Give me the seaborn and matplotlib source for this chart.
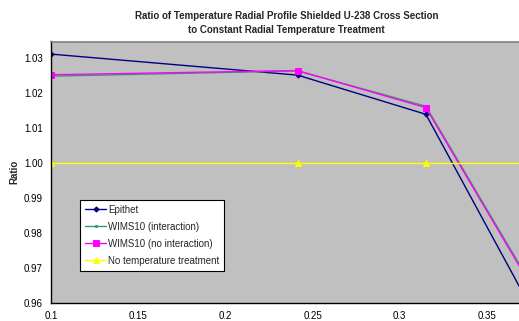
import matplotlib
matplotlib.use("Agg")
import matplotlib.pyplot as plt
import seaborn as sns
import pandas as pd

radius = [0.1, 0.2414, 0.315, 0.4096]
epithet = [1.0311, 1.0251, 1.0139, 0.9271]
wims_inter = [1.0248, 1.0263, 1.0162, 0.9365]
wims_nointer = [1.0252, 1.0264, 1.0158, 0.9359]
no_temp = [1.0, 1.0, 1.0, 1.0]

series = {
    "Epithet": epithet,
    "WIMS10 (interaction)": wims_inter,
    "WIMS10 (no interaction)": wims_nointer,
    "No temperature treatment": no_temp,
}
styles = {
    "Epithet": dict(color="#000080", marker="D", markersize=2.6),
    "WIMS10 (interaction)": dict(color="#339966", marker="o", markersize=1.5),
    "WIMS10 (no interaction)": dict(color="#FF00FF", marker="s", markersize=4.5),
    "No temperature treatment": dict(color="#FFFF00", marker="^", markersize=4),
}

sns.set_style("white")
plt.rcParams["font.family"] = ["Liberation Sans", "DejaVu Sans"]

fig = plt.figure(figsize=(5.19, 3.21), dpi=100)
ax = fig.add_axes([51 / 519, 18 / 321, 1 - 51 / 519, 261.5 / 321])
ax.set_facecolor("#C0C0C0")

for name, vals in series.items():
    df = pd.DataFrame({"x": radius, "y": vals})
    st = styles[name]
    sns.lineplot(data=df, x="x", y="y", ax=ax, color=st["color"], marker=st["marker"],
                 markersize=st["markersize"], markeredgecolor=st["color"],
                 linewidth=1.0, label=name, clip_on=True)

ax.set_xlim(0.1, 0.3684)
ax.set_ylim(0.96, 1.0347)
ax.set_xticks([0.1, 0.15, 0.2, 0.25, 0.3, 0.35])
ax.set_xticklabels(["0.1", "0.15", "0.2", "0.25", "0.3", "0.35"])
ax.set_yticks([0.96, 0.97, 0.98, 0.99, 1.00, 1.01, 1.02, 1.03])
ax.set_yticklabels([f"{v:.2f}" for v in [0.96, 0.97, 0.98, 0.99, 1.00, 1.01, 1.02, 1.03]])
ax.tick_params(axis="both", labelsize=7, direction="out", length=3, width=0.8,
               colors="black", pad=3)
ax.set_xlabel("")
ax.set_ylabel("Ratio", fontsize=7, fontweight="bold", labelpad=3)

for s in ["left", "bottom"]:
    ax.spines[s].set_color("black")
    ax.spines[s].set_linewidth(1.0)
ax.spines["top"].set_color("#808080")
ax.spines["top"].set_linewidth(1.2)
ax.spines["right"].set_visible(False)

fig.suptitle("Ratio of Temperature Radial Profile Shielded U-238 Cross Section\nto Constant Radial Temperature Treatment",
             fontsize=7, fontweight="bold", x=0.552, y=0.965, linespacing=1.45)

leg = ax.legend(loc="upper left", bbox_to_anchor=(29 / 468, 103 / 261.5), fontsize=7,
                frameon=True, fancybox=False, edgecolor="black", framealpha=1,
                facecolor="white", borderpad=0.5, labelspacing=0.72, handlelength=2.2,
                handletextpad=0.2, borderaxespad=0)
leg.get_frame().set_linewidth(0.8)

fig.savefig("out.png", dpi=100, facecolor="white")
